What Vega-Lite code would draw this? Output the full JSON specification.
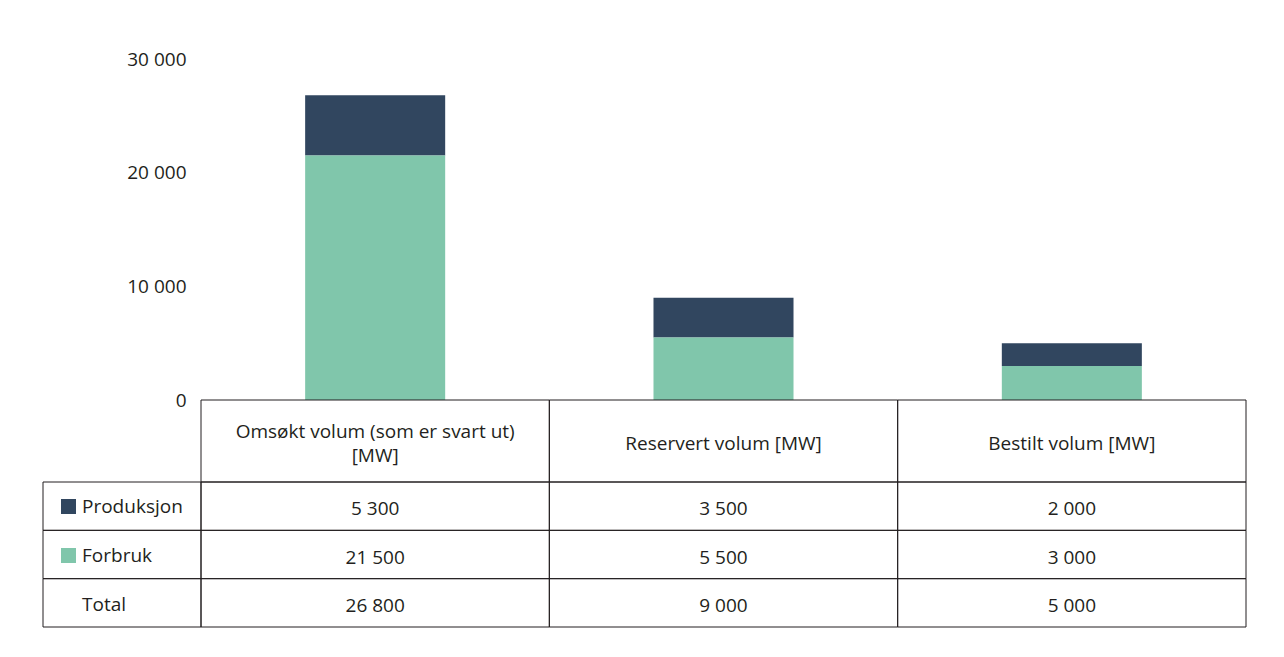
{
  "$schema": "https://vega.github.io/schema/vega-lite/v6.json",
  "background": "white",
  "padding": {"left": 42, "top": 50, "right": 5, "bottom": 5},
  "datasets": {
    "volum": [
      {"kategori": "Omsøkt volum (som er svart ut)\n[MW]", "serie": "Produksjon", "mw": 5300},
      {"kategori": "Omsøkt volum (som er svart ut)\n[MW]", "serie": "Forbruk", "mw": 21500},
      {"kategori": "Omsøkt volum (som er svart ut)\n[MW]", "serie": "Total", "mw": 26800},
      {"kategori": "Reservert volum [MW]", "serie": "Produksjon", "mw": 3500},
      {"kategori": "Reservert volum [MW]", "serie": "Forbruk", "mw": 5500},
      {"kategori": "Reservert volum [MW]", "serie": "Total", "mw": 9000},
      {"kategori": "Bestilt volum [MW]", "serie": "Produksjon", "mw": 2000},
      {"kategori": "Bestilt volum [MW]", "serie": "Forbruk", "mw": 3000},
      {"kategori": "Bestilt volum [MW]", "serie": "Total", "mw": 5000}
    ]
  },
  "columns": 2,
  "spacing": 0,
  "bounds": "flush",
  "concat": [
    {
      "width": 158,
      "height": 341,
      "data": {"values": []},
      "mark": "rect"
    },
    {
      "width": 1045,
      "height": 341,
      "data": {"name": "volum"},
      "transform": [{"filter": "datum.serie !== 'Total'"}],
      "mark": {"type": "bar"},
      "encoding": {
        "x": {
          "field": "kategori",
          "type": "nominal",
          "sort": null,
          "scale": {"paddingInner": 0.598, "paddingOuter": 0.299},
          "axis": null
        },
        "y": {
          "field": "mw",
          "type": "quantitative",
          "stack": "zero",
          "scale": {"domain": [0, 30000], "nice": false},
          "axis": {
            "values": [0, 10000, 20000, 30000],
            "format": ",d",
            "domain": false,
            "ticks": false,
            "grid": false,
            "labelPadding": 15,
            "labelFontSize": 19,
            "labelColor": "#231f20",
            "title": null
          }
        },
        "color": {
          "field": "serie",
          "type": "nominal",
          "scale": {
            "domain": ["Produksjon", "Forbruk", "Total"],
            "range": ["#31465f", "#80c6ab", "rgba(255,255,255,0)"]
          },
          "legend": {
            "title": null,
            "orient": "none",
            "legendX": -142,
            "legendY": 438,
            "direction": "vertical",
            "padding": 0,
            "symbolType": "square",
            "symbolSize": 225,
            "symbolStrokeWidth": 0,
            "labelFontSize": 19,
            "labelColor": "#231f20",
            "labelOffset": 4,
            "rowPadding": 29
          }
        },
        "order": {"field": "serie", "sort": "ascending"}
      }
    },
    {
      "width": 158,
      "height": 82,
      "data": {"values": []},
      "mark": "rect"
    },
    {
      "width": 1045,
      "height": 82,
      "data": {"name": "volum"},
      "transform": [{"filter": "datum.serie === 'Total'"}],
      "encoding": {
        "x": {
          "field": "kategori",
          "type": "nominal",
          "sort": null,
          "scale": {"paddingInner": 0, "paddingOuter": 0},
          "axis": null
        }
      },
      "layer": [
        {"mark": {"type": "rect", "fill": "transparent", "stroke": "#231f20", "strokeWidth": 1}},
        {
          "transform": [{"filter": "indexof(datum.kategori, '\\n') < 0"}],
          "mark": {"type": "text", "fontSize": 19, "color": "#231f20", "dy": 3},
          "encoding": {"text": {"field": "kategori"}}
        },
        {
          "transform": [{"filter": "indexof(datum.kategori, '\\n') >= 0"}],
          "mark": {"type": "text", "fontSize": 19, "color": "#231f20", "lineBreak": "\n", "lineHeight": 24, "dy": -9},
          "encoding": {"text": {"field": "kategori"}}
        }
      ]
    },
    {
      "width": 158,
      "height": 145,
      "data": {"name": "volum"},
      "transform": [{"aggregate": [{"op": "count", "as": "antall"}], "groupby": ["serie"]}],
      "mark": {"type": "rect", "fill": "transparent", "stroke": "#231f20", "strokeWidth": 1},
      "encoding": {
        "y": {
          "field": "serie",
          "type": "nominal",
          "sort": ["Produksjon", "Forbruk", "Total"],
          "scale": {"paddingInner": 0, "paddingOuter": 0},
          "axis": null
        }
      }
    },
    {
      "width": 1045,
      "height": 145,
      "data": {"name": "volum"},
      "encoding": {
        "x": {
          "field": "kategori",
          "type": "nominal",
          "sort": null,
          "scale": {"paddingInner": 0, "paddingOuter": 0},
          "axis": null
        },
        "y": {
          "field": "serie",
          "type": "nominal",
          "sort": ["Produksjon", "Forbruk", "Total"],
          "scale": {"paddingInner": 0, "paddingOuter": 0},
          "axis": null
        }
      },
      "layer": [
        {"mark": {"type": "rect", "fill": "transparent", "stroke": "#231f20", "strokeWidth": 1}},
        {
          "mark": {"type": "text", "fontSize": 19, "color": "#231f20", "dy": 3},
          "encoding": {"text": {"field": "mw", "type": "quantitative", "format": ",d"}}
        }
      ]
    }
  ],
  "resolve": {
    "scale": {"x": "independent", "y": "independent", "color": "independent"},
    "legend": {"color": "independent"}
  },
  "config": {
    "font": "Open Sans",
    "view": {"stroke": null},
    "locale": {
      "number": {"decimal": ",", "thousands": " ", "grouping": [3], "currency": ["", " kr"]}
    }
  }
}
